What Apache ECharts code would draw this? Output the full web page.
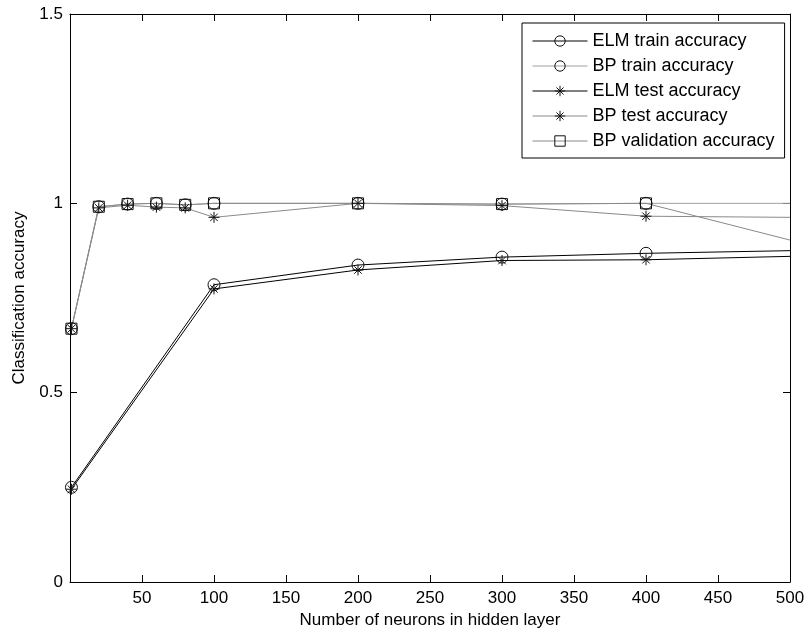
<!DOCTYPE html>
<html>
<head>
<meta charset="utf-8">
<script src="https://cdn.jsdelivr.net/npm/echarts@6/dist/echarts.min.js"></script>
<style>
html,body{margin:0;padding:0;background:#fff;}
#chart{width:808px;height:636px;}
</style>
</head>
<body>
<div id="chart"></div>
<script>
// ---- data ----
const seriesNames = ['ELM train accuracy', 'BP train accuracy', 'ELM test accuracy', 'BP test accuracy', 'BP validation accuracy'];
const elmX = [1, 100, 200, 300, 400, 500];
const elmTrain = [0.250, 0.785, 0.837, 0.858, 0.868, 0.875];
const elmTest = [0.245, 0.774, 0.824, 0.849, 0.851, 0.860];
const bpX = [1, 20, 40, 60, 80, 100, 200, 300, 400, 500];
const bpTrain = [0.669, 0.991, 0.998, 1.000, 0.996, 1.000, 1.000, 0.998, 1.000, 1.000];
const bpTest = [0.669, 0.988, 0.995, 0.990, 0.988, 0.963, 1.000, 0.994, 0.966, 0.963];
const bpVal = [0.669, 0.991, 0.998, 1.000, 0.996, 1.000, 1.000, 0.998, 1.000, 0.903];
const xTicks = [50, 100, 150, 200, 250, 300, 350, 400, 450, 500];
const yTicks = [0, 0.5, 1, 1.5];

const FONT = 'Liberation Sans, Arial, Helvetica, sans-serif';
const STAR = 'path://M5,0L5,10M0,5L10,5M1.6,1.6L8.4,8.4M1.6,8.4L8.4,1.6';

// the last x (500) is where the line leaves the axes: no marker drawn there
function pts(xs, ys) {
  return xs.map((x, i) => i === xs.length - 1
    ? { value: [x, ys[i]], symbol: 'none' }
    : [x, ys[i]]);
}

function mk(name, xs, ys, lineColor, symbol, size) {
  return {
    name: name,
    type: 'line',
    data: pts(xs, ys),
    symbol: symbol,
    symbolSize: size,
    showAllSymbol: true,
    animation: false,
    lineStyle: { color: lineColor, width: 1 },
    itemStyle: { color: 'rgba(0,0,0,0)', borderColor: '#111', borderWidth: 1 },
    emphasis: { disabled: true }
  };
}

function axisBase() {
  return {
    type: 'value',
    axisLine: { show: true, onZero: false, lineStyle: { color: '#000', width: 1 } },
    axisTick: { show: true, inside: true, length: 7, lineStyle: { color: '#000' } },
    splitLine: { show: false },
    nameTextStyle: { color: '#000', fontFamily: FONT, fontSize: 17 }
  };
}

const chart = echarts.init(document.getElementById('chart'), null, { renderer: 'canvas' });
chart.setOption({
  backgroundColor: '#fff',
  animation: false,
  grid: { left: 70, right: 18, top: 14, bottom: 54, containLabel: false },
  legend: {
    data: seriesNames,
    orient: 'vertical',
    left: 522,
    top: 23,
    padding: [9, 10, 8, 10],
    itemWidth: 55,
    itemHeight: 13,
    itemGap: 7,
    backgroundColor: '#fff',
    borderColor: '#000',
    borderWidth: 1,
    borderRadius: 0,
    lineStyle: { width: 1 },
    itemStyle: { borderWidth: 1 },
    textStyle: { color: '#000', fontFamily: FONT, fontSize: 18, lineHeight: 18 }
  },
  xAxis: [
    Object.assign(axisBase(), {
      position: 'bottom', min: 0, max: 500, interval: 50,
      name: 'Number of neurons in hidden layer', nameLocation: 'middle', nameGap: 28,
      axisLabel: {
        color: '#000', fontFamily: FONT, fontSize: 17, margin: 8,
        formatter: v => (xTicks.indexOf(v) >= 0 ? String(v) : '')
      }
    }),
    Object.assign(axisBase(), {
      position: 'top', min: 0, max: 500, interval: 50,
      axisLabel: { show: false }
    })
  ],
  yAxis: [
    Object.assign(axisBase(), {
      position: 'left', min: 0, max: 1.5, interval: 0.5,
      name: 'Classification accuracy', nameLocation: 'middle', nameGap: 42,
      axisLabel: {
        color: '#000', fontFamily: FONT, fontSize: 17, margin: 7,
        formatter: v => (yTicks.indexOf(v) >= 0 ? String(v) : '')
      }
    }),
    Object.assign(axisBase(), {
      position: 'right', min: 0, max: 1.5, interval: 0.5,
      axisLabel: { show: false }
    })
  ],
  series: [
    mk(seriesNames[0], elmX, elmTrain, '#000', 'circle', 12),
    mk(seriesNames[1], bpX, bpTrain, '#a0a0a0', 'circle', 12),
    mk(seriesNames[2], elmX, elmTest, '#000', STAR, 11),
    mk(seriesNames[3], bpX, bpTest, '#8a8a8a', STAR, 11),
    mk(seriesNames[4], bpX, bpVal, '#8a8a8a', 'rect', 11)
  ]
});
</script>
</body>
</html>
